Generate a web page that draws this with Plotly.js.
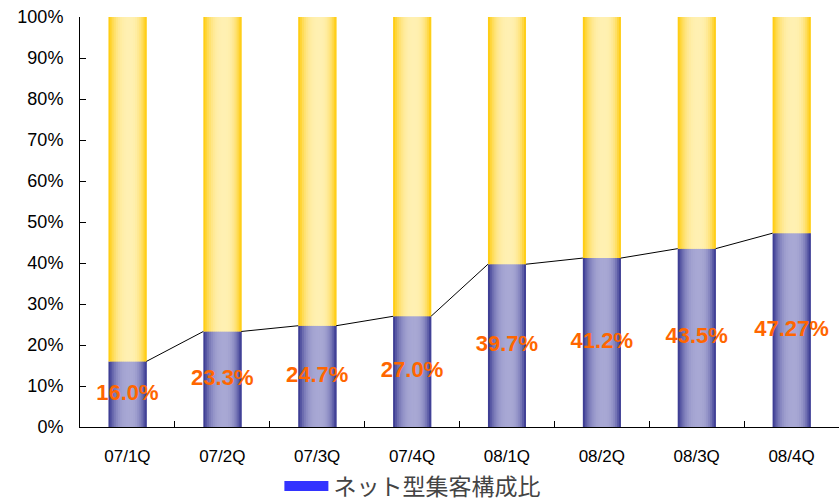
<!DOCTYPE html>
<html>
<head>
<meta charset="utf-8">
<script src="https://cdn.plot.ly/plotly-3.0.1.min.js"></script>
<style>
  html, body { margin: 0; padding: 0; background: #ffffff; }
  #chart { width: 839px; height: 501px; }
</style>
</head>
<body>
<div id="chart"></div>
<script>
// Quarterly share of net-driven customer acquisition (%)
const quarters = ['07/1Q', '07/2Q', '07/3Q', '07/4Q', '08/1Q', '08/2Q', '08/3Q', '08/4Q'];
const netShare = [16.0, 23.3, 24.7, 27.0, 39.7, 41.2, 43.5, 47.27];
const shareLabels = ['16.0%', '23.3%', '24.7%', '27.0%', '39.7%', '41.2%', '43.5%', '47.27%'];
const seriesName = 'ネット型集客構成比';
const yTicks = [0, 10, 20, 30, 40, 50, 60, 70, 80, 90, 100];
const yTickText = ['0%', '10%', '20%', '30%', '40%', '50%', '60%', '70%', '80%', '90%', '100%'];

const FONT = 'Arial, "Liberation Sans", sans-serif';
const BAR_WIDTH = 0.4;   // fraction of a category slot
const STRIPS = 20;       // vertical strips used to shade each bar like a cylinder

const idx = quarters.map((_, i) => i);
const rest = netShare.map(v => 100 - v);

// cylinder shading: dark at both edges, brightest a little right of centre
function mix(dark, light, t) {
  const p = 0.55;
  const d = t < p ? (p - t) / p : (t - p) / (1 - p);
  const w = Math.max(0, 1 - Math.pow(d, 2.6));
  const c = dark.map((v, k) => Math.round(v + (light[k] - v) * w));
  return 'rgb(' + c.join(',') + ')';
}
const BLUE_DARK = [48, 48, 140], BLUE_LIGHT = [168, 168, 212];
const GOLD_DARK = [255, 200, 0], GOLD_LIGHT = [255, 240, 178];

const traces = [];
for (let s = 0; s < STRIPS; s++) {
  const t = (s + 0.5) / STRIPS;
  const off = -BAR_WIDTH / 2 + s * BAR_WIDTH / STRIPS;
  const w = BAR_WIDTH / 2 - off;   // each strip runs to the bar's right edge; later strips cover it
  traces.push({
    type: 'bar', x: idx, y: netShare, base: 0,
    width: w, offset: off,
    marker: { color: mix(BLUE_DARK, BLUE_LIGHT, t), line: { width: 0 } },
    hoverinfo: 'skip', showlegend: false
  });
  traces.push({
    type: 'bar', x: idx, y: rest, base: netShare,
    width: w, offset: off,
    marker: { color: mix(GOLD_DARK, GOLD_LIGHT, t), line: { width: 0 } },
    hoverinfo: 'skip', showlegend: false
  });
}

// series lines joining the top of each blue segment to the next one
const lx = [], ly = [];
for (let i = 0; i < netShare.length - 1; i++) {
  lx.push(i + BAR_WIDTH / 2, i + 1 - BAR_WIDTH / 2, null);
  ly.push(netShare[i], netShare[i + 1], null);
}
traces.push({
  type: 'scatter', mode: 'lines', x: lx, y: ly, xaxis: 'x2',
  line: { color: '#000000', width: 1 },
  hoverinfo: 'skip', showlegend: false
});

// value labels centred in the blue segments
traces.push({
  type: 'scatter', mode: 'text', x: idx, y: netShare.map(v => v / 2),
  text: shareLabels, textposition: 'middle center',
  textfont: { family: FONT, size: 22, color: '#ff6600', weight: 'bold' },
  hoverinfo: 'skip', showlegend: false
});

// legend entry
traces.push({
  type: 'scatter', mode: 'lines', x: [null], y: [null], name: seriesName,
  line: { color: '#3333ff', width: 10 }
});

const layout = {
  width: 839, height: 501,
  margin: { l: 80, r: 0, t: 17, b: 74 },
  paper_bgcolor: '#ffffff', plot_bgcolor: '#ffffff',
  barmode: 'overlay',
  font: { family: FONT, color: '#000000' },
  xaxis: {
    range: [-0.5, 7.5], automargin: false,
    tickvals: idx, ticktext: quarters, ticks: '',
    showgrid: false, zeroline: false,
    showline: true, linecolor: '#000000', linewidth: 1,
    tickfont: { family: FONT, size: 17, color: '#000000' },
    ticklabelstandoff: 14
  },
  xaxis2: {
    overlaying: 'x', matches: 'x', anchor: 'y', side: 'bottom', automargin: false,
    tickvals: [0.5, 1.5, 2.5, 3.5, 4.5, 5.5, 6.5],
    ticks: 'inside', ticklen: 6, tickcolor: '#000000',
    showticklabels: false, showgrid: false, zeroline: false, showline: false
  },
  yaxis: {
    range: [0, 100], automargin: false,
    tickvals: yTicks, ticktext: yTickText,
    ticks: 'inside', ticklen: 6, tickcolor: '#000000',
    showgrid: false, zeroline: false,
    showline: true, linecolor: '#000000', linewidth: 1,
    tickfont: { family: FONT, size: 18, color: '#000000' },
    ticklabelstandoff: 12
  },
  showlegend: true,
  legend: {
    orientation: 'h', xref: 'container', yref: 'container',
    x: 0.333, xanchor: 'left', y: 0.03, yanchor: 'middle',
    itemwidth: 44,
    font: { family: '"Noto Sans CJK JP", sans-serif', size: 23, color: '#444444' },
    bgcolor: 'rgba(0,0,0,0)'
  }
};

Plotly.newPlot('chart', traces, layout, { displayModeBar: false, staticPlot: true });
</script>
</body>
</html>
